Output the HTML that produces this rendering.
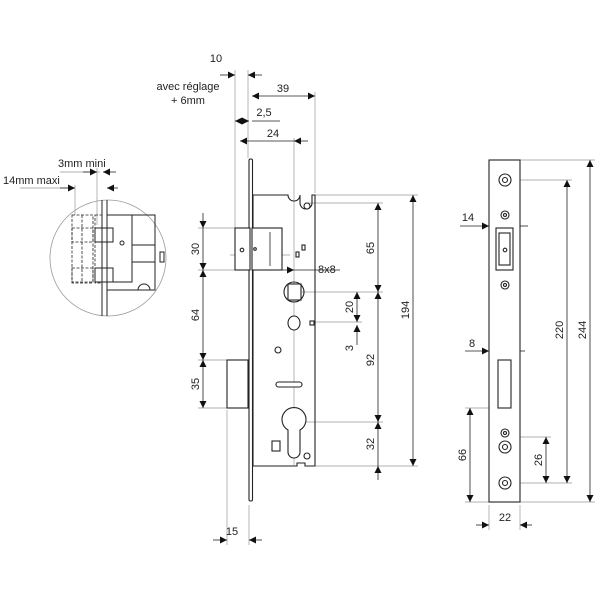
<!DOCTYPE html>
<html><head><style>body{margin:0;background:#fff}svg{display:block}text{font-family:"Liberation Sans",sans-serif;font-size:11px;fill:#222}</style></head>
<body>
<svg width="600" height="600" viewBox="0 0 600 600" xmlns="http://www.w3.org/2000/svg">
<defs>
<marker id="a" viewBox="0 0 10 10" refX="10" refY="5" markerWidth="11" markerHeight="7" orient="auto-start-reverse" markerUnits="userSpaceOnUse"><path d="M0,0L10,5L0,10z" fill="#111"/></marker>
</defs>
<g stroke="#999" stroke-width="0.7" fill="none">
<line x1="235" y1="70" x2="235" y2="228"/><line x1="248" y1="70" x2="248" y2="158"/>
<line x1="315" y1="92" x2="315" y2="193"/><line x1="294" y1="138" x2="294" y2="465"/>
<line x1="315" y1="195" x2="418" y2="195"/><line x1="305" y1="203" x2="383" y2="203"/>
<line x1="300" y1="292" x2="383" y2="292"/><line x1="312" y1="322" x2="362" y2="322"/>
<line x1="294" y1="422" x2="383" y2="422"/><line x1="315" y1="466" x2="418" y2="466"/>
<line x1="198" y1="228" x2="235" y2="228"/><line x1="198" y1="270" x2="235" y2="270"/>
<line x1="198" y1="360" x2="227" y2="360"/><line x1="198" y1="408" x2="227" y2="408"/>
<line x1="227" y1="410" x2="227" y2="545"/><line x1="249" y1="505" x2="249" y2="545"/>
<line x1="520" y1="160" x2="595" y2="160"/><line x1="515" y1="180" x2="572" y2="180"/>
<line x1="515" y1="483" x2="572" y2="483"/><line x1="515" y1="437" x2="551" y2="437"/>
<line x1="520" y1="502" x2="595" y2="502"/><line x1="465" y1="408" x2="496" y2="408"/><line x1="465" y1="502" x2="489" y2="502"/>
<line x1="489" y1="505" x2="489" y2="530"/><line x1="520" y1="505" x2="520" y2="530"/>
<line x1="498" y1="345" x2="498" y2="358"/><line x1="511" y1="345" x2="511" y2="358"/>
<line x1="60" y1="172" x2="100" y2="172"/><line x1="20" y1="188" x2="75" y2="188"/>
<line x1="75" y1="185" x2="75" y2="215"/><line x1="97" y1="168" x2="97" y2="225"/>
<line x1="230" y1="255" x2="290" y2="255"/>
</g>
<g stroke="#222" stroke-width="0.8" fill="none">
<line x1="220" y1="75" x2="235" y2="75" marker-end="url(#a)"/><line x1="262" y1="75" x2="248" y2="75" marker-end="url(#a)"/>
<line x1="252" y1="96" x2="315" y2="96" marker-start="url(#a)" marker-end="url(#a)"/>
<line x1="235" y1="121" x2="249" y2="121" marker-start="url(#a)" marker-end="url(#a)"/><line x1="252" y1="121" x2="280" y2="121"/>
<line x1="240" y1="141" x2="294" y2="141" marker-start="url(#a)"/><line x1="294" y1="141" x2="308" y2="141" marker-start="url(#a)"/>
<line x1="378" y1="203" x2="378" y2="292" marker-start="url(#a)" marker-end="url(#a)"/>
<line x1="378" y1="292" x2="378" y2="422" marker-start="url(#a)" marker-end="url(#a)"/>
<line x1="378" y1="422" x2="378" y2="466" marker-start="url(#a)"/><line x1="378" y1="480" x2="378" y2="466" marker-end="url(#a)"/>
<line x1="357" y1="292" x2="357" y2="322" marker-start="url(#a)" marker-end="url(#a)"/>
<line x1="357" y1="345" x2="357" y2="325" marker-end="url(#a)"/>
<line x1="413" y1="195" x2="413" y2="466" marker-start="url(#a)" marker-end="url(#a)"/>
<line x1="203" y1="213" x2="203" y2="228" marker-end="url(#a)"/><line x1="203" y1="228" x2="203" y2="270" marker-end="url(#a)"/>
<line x1="203" y1="270" x2="203" y2="360" marker-start="url(#a)" marker-end="url(#a)"/>
<line x1="203" y1="360" x2="203" y2="408" marker-start="url(#a)" marker-end="url(#a)"/>
<line x1="213" y1="540" x2="227" y2="540" marker-end="url(#a)"/><line x1="262" y1="540" x2="249" y2="540" marker-end="url(#a)"/>
<line x1="274" y1="270" x2="294" y2="270" marker-end="url(#a)"/><line x1="340" y1="270" x2="294" y2="270"/>
<line x1="590" y1="160" x2="590" y2="502" marker-start="url(#a)" marker-end="url(#a)"/>
<line x1="567" y1="180" x2="567" y2="483" marker-start="url(#a)" marker-end="url(#a)"/>
<line x1="546" y1="437" x2="546" y2="483" marker-start="url(#a)" marker-end="url(#a)"/>
<line x1="470" y1="408" x2="470" y2="502" marker-start="url(#a)" marker-end="url(#a)"/>
<line x1="476" y1="525" x2="489" y2="525" marker-end="url(#a)"/><line x1="532" y1="525" x2="520" y2="525" marker-end="url(#a)"/>
<line x1="460" y1="226" x2="489" y2="226" marker-end="url(#a)"/><line x1="528" y1="226" x2="513" y2="226" marker-end="url(#a)"/>
<line x1="465" y1="351" x2="489" y2="351" marker-end="url(#a)"/><line x1="525" y1="351" x2="511" y2="351" marker-end="url(#a)"/>
<line x1="83" y1="172" x2="97" y2="172" marker-end="url(#a)"/><line x1="116" y1="172" x2="103" y2="172" marker-end="url(#a)"/>
<line x1="60" y1="188" x2="75" y2="188" marker-end="url(#a)"/><line x1="118" y1="188" x2="107" y2="188" marker-end="url(#a)"/>
</g>
<g stroke="#222" stroke-width="1.1" fill="#fff">
<rect x="249" y="159" width="3.5" height="342" rx="1.5"/>
<path d="M253,195H288A6,6 0 0 0 300,195V203A6,6 0 0 0 312,203V195H315V466H305V463H297V466H253Z" fill="none"/>
<rect x="252" y="228" width="30" height="42"/>
<rect x="235" y="228" width="15" height="42"/>
<rect x="227" y="360" width="21" height="48"/>
<rect x="288" y="284" width="13" height="16"/>
<circle cx="294" cy="292" r="10" fill="none"/>
<ellipse cx="294" cy="323" rx="6" ry="7"/>
<path d="M288,430A12,12 0 1 1 300,430V452A6,6 0 0 1 288,452Z"/>
<circle cx="307" cy="206" r="3"/><circle cx="278" cy="350" r="3"/><circle cx="307" cy="456" r="3"/>
<rect x="276" y="382" width="26" height="5" rx="2.5"/>
<rect x="272" y="441" width="8" height="10"/>
<rect x="302" y="245" width="3" height="5"/><rect x="296" y="252" width="3" height="5"/>
<rect x="310" y="321" width="4" height="4"/>
<circle cx="242" cy="250" r="1.8"/><circle cx="255" cy="249" r="1.3"/>
</g>
<line x1="270" y1="232" x2="270" y2="266" stroke="#222" stroke-width="0.8"/>
<circle cx="108" cy="258" r="58" fill="none" stroke="#999" stroke-width="0.8"/>
<g stroke="#222" stroke-width="1" fill="none">
<line x1="102" y1="200" x2="102" y2="316"/><line x1="107" y1="200" x2="107" y2="316"/>
<rect x="107" y="215" width="48" height="75"/><rect x="107" y="215" width="25" height="67"/>
<line x1="132" y1="245" x2="155" y2="245"/><line x1="132" y1="262" x2="155" y2="262"/>
<rect x="95" y="228" width="18" height="14"/><rect x="95" y="268" width="18" height="14"/>
<rect x="160" y="252" width="4" height="10"/><circle cx="122" cy="243" r="2"/>
<path d="M138,290A6,6 0 0 1 150,290"/>
</g>
<g stroke="#222" stroke-width="0.8" fill="none" stroke-dasharray="3,1.5">
<rect x="72" y="215" width="21" height="68"/><line x1="82" y1="215" x2="82" y2="283"/>
<rect x="72" y="228" width="21" height="14"/><rect x="72" y="268" width="21" height="14"/>
<rect x="95" y="215" width="7" height="68"/>
</g>
<g stroke="#222" stroke-width="1.1" fill="#fff">
<rect x="489" y="160" width="31" height="342"/>
<rect x="496" y="228" width="17" height="42"/><rect x="499" y="233" width="11" height="32"/>
<rect x="498" y="360" width="13" height="48"/>
<circle cx="505" cy="215" r="4"/><circle cx="505" cy="215" r="1.5"/>
<circle cx="505" cy="285" r="4"/><circle cx="505" cy="285" r="1.5"/>
<circle cx="505" cy="433" r="4"/><circle cx="505" cy="433" r="1.5"/>
<circle cx="505" cy="180" r="6"/><circle cx="505" cy="447" r="6"/><circle cx="505" cy="483" r="6"/>
<circle cx="505" cy="180" r="2.5"/><circle cx="505" cy="447" r="2.5"/><circle cx="505" cy="483" r="2.5"/>
<circle cx="505" cy="250" r="1.8"/>
</g>
<g font-size="11">
<text x="216" y="62" text-anchor="middle">10</text>
<text x="188" y="90" text-anchor="middle">avec réglage</text>
<text x="188" y="104" text-anchor="middle">+ 6mm</text>
<text x="283" y="92" text-anchor="middle">39</text>
<text x="264" y="116" text-anchor="middle">2,5</text>
<text x="273" y="137" text-anchor="middle">24</text>
<text x="318" y="273">8x8</text>
<text x="58" y="167">3mm mini</text>
<text x="3" y="184">14mm maxi</text>
<text x="232" y="535" text-anchor="middle">15</text>
<text x="468" y="221" text-anchor="middle">14</text>
<text x="472" y="347" text-anchor="middle">8</text>
<text x="505" y="521" text-anchor="middle">22</text>
<text transform="translate(199,249) rotate(-90)" text-anchor="middle">30</text>
<text transform="translate(199,315) rotate(-90)" text-anchor="middle">64</text>
<text transform="translate(199,384) rotate(-90)" text-anchor="middle">35</text>
<text transform="translate(374,248) rotate(-90)" text-anchor="middle">65</text>
<text transform="translate(353,307) rotate(-90)" text-anchor="middle">20</text>
<text transform="translate(353,348) rotate(-90)" text-anchor="middle">3</text>
<text transform="translate(374,360) rotate(-90)" text-anchor="middle">92</text>
<text transform="translate(374,444) rotate(-90)" text-anchor="middle">32</text>
<text transform="translate(409,310) rotate(-90)" text-anchor="middle">194</text>
<text transform="translate(563,330) rotate(-90)" text-anchor="middle">220</text>
<text transform="translate(586,330) rotate(-90)" text-anchor="middle">244</text>
<text transform="translate(542,460) rotate(-90)" text-anchor="middle">26</text>
<text transform="translate(466,455) rotate(-90)" text-anchor="middle">66</text>
</g>
</svg>
</body></html>
